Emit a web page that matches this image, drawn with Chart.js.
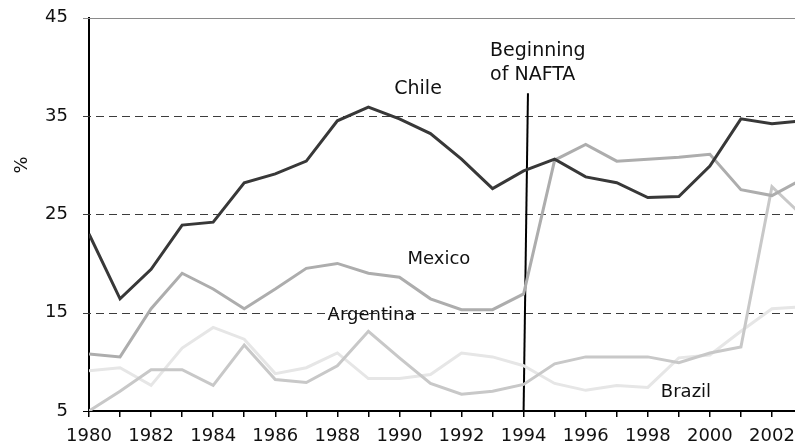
<!DOCTYPE html>
<html>
<head>
<meta charset="utf-8">
<script src="https://cdn.jsdelivr.net/npm/chart.js@4"></script>
<style>
  html, body { margin: 0; padding: 0; background: #fff; overflow: hidden; }
  #wrap { width: 840px; height: 446px; }
</style>
</head>
<body>
<div id="wrap"><canvas id="myChart" width="840" height="446"></canvas></div>
<script>
// years on the x axis
const years = [1980, 1981, 1982, 1983, 1984, 1985, 1986, 1987, 1988, 1989, 1990, 1991,
  1992, 1993, 1994, 1995, 1996, 1997, 1998, 1999, 2000, 2001, 2002, 2003]

// series, %
const chile = [23.0, 16.4, 19.4, 23.9, 24.2, 28.2, 29.1, 30.4, 34.5, 35.9, 34.7, 33.2,
  30.6, 27.6, 29.4, 30.6, 28.8, 28.2, 26.7, 26.8, 29.9, 34.7, 34.2, 34.5]
const mexico = [10.8, 10.5, 15.4, 19.0, 17.4, 15.4, 17.4, 19.5, 20.0, 19.0, 18.6, 16.4,
  15.3, 15.3, 16.9, 30.5, 32.1, 30.4, 30.6, 30.8, 31.1, 27.5, 26.9, 28.6]
const argentina = [5.0, 7.0, 9.2, 9.2, 7.6, 11.7, 8.2, 7.9, 9.6, 13.1, 10.4, 7.8,
  6.7, 7.0, 7.7, 9.8, 10.5, 10.5, 10.5, 9.9, 10.9, 11.5, 27.8, 24.8]
const brazil = [9.1, 9.4, 7.6, 11.4, 13.5, 12.3, 8.8, 9.4, 10.9, 8.3, 8.3, 8.7,
  10.9, 10.5, 9.6, 7.8, 7.1, 7.6, 7.4, 10.4, 10.7, 13.1, 15.4, 15.6]

// start of NAFTA marker (top, bottom)
const naftaX = [1994.14, 1994]
const naftaY = [37.3, 5]

// y tick values
const yTicks = [5, 15, 25, 35, 45]

// text on the plot, in data units
const notes = [
  { text: 'Chile', x: 1990.6, y: 37.7, size: 19, align: 'center' },
  { text: 'Mexico', x: 1991.27, y: 20.4, size: 18, align: 'center' },
  { text: 'Argentina', x: 1989.1, y: 14.7, size: 18, align: 'center' },
  { text: 'Brazil', x: 1999.23, y: 6.9, size: 18, align: 'center' },
  { text: 'Beginning', x: 1992.92, y: 41.6, size: 19, align: 'left' },
  { text: 'of NAFTA', x: 1992.92, y: 39.1, size: 19, align: 'left' }
]

Chart.defaults.font.family = 'DejaVu Sans'
Chart.defaults.color = '#111'

const toPts = arr => arr.map((v, i) => ({ x: years[i], y: v }))

// dashed grid lines, solid gray at the top
const gridLines = {
  id: 'gridLines',
  beforeDatasetsDraw(chart) {
    const { ctx, chartArea, scales: { y } } = chart
    ctx.save()
    yTicks.forEach(v => {
      const py = Math.round(y.getPixelForValue(v)) + 0.5
      ctx.beginPath()
      ctx.lineWidth = 1
      if (v === 45) {
        ctx.setLineDash([])
        ctx.strokeStyle = '#8a8a8a'
      } else if (v === 5) {
        ctx.setLineDash([])
        ctx.strokeStyle = '#000'
      } else {
        ctx.setLineDash([8, 5])
        ctx.strokeStyle = '#3c3c3c'
      }
      ctx.moveTo(chartArea.left - 6, py)
      ctx.lineTo(v === 5 ? chartArea.left : chartArea.right, py)
      ctx.stroke()
    })
    ctx.restore()
  }
}

const textNotes = {
  id: 'textNotes',
  afterDatasetsDraw(chart) {
    const { ctx, chartArea, scales: { x, y } } = chart
    ctx.save()
    ctx.fillStyle = '#111'
    notes.forEach(n => {
      ctx.font = n.size + 'px "DejaVu Sans"'
      ctx.textAlign = n.align
      ctx.textBaseline = 'middle'
      ctx.fillText(n.text, x.getPixelForValue(n.x), y.getPixelForValue(n.y))
    })
    // axis title
    ctx.translate(chartArea.left - 67, y.getPixelForValue(30))
    ctx.rotate(-Math.PI / 2)
    ctx.font = '18px "DejaVu Sans"'
    ctx.textAlign = 'center'
    ctx.fillText('%', 0, 0)
    ctx.restore()
  }
}

let ctx = document.getElementById('myChart')
let myChart = new Chart(ctx, {
  type: 'line',
  data: {
    datasets: [
      { label: 'Chile', data: toPts(chile), borderColor: '#383838', borderWidth: 3 },
      { label: 'Mexico', data: toPts(mexico), borderColor: '#adadad', borderWidth: 3 },
      { label: 'Argentina', data: toPts(argentina), borderColor: '#c8c8c8', borderWidth: 3 },
      { label: 'Brazil', data: toPts(brazil), borderColor: '#e6e6e6', borderWidth: 3 },
      { label: 'NAFTA', data: naftaX.map((v, i) => ({ x: v, y: naftaY[i] })), borderColor: '#000', borderWidth: 2 }
    ]
  },
  options: {
    responsive: false,
    animation: false,
    events: [],
    elements: { point: { radius: 0 }, line: { tension: 0, borderCapStyle: 'butt' } },
    layout: { padding: { left: 0, top: 17.5, right: 37, bottom: 0 } },
    plugins: { legend: { display: false }, tooltip: { enabled: false } },
    scales: {
      x: {
        type: 'linear',
        min: 1980,
        max: 2003,
        border: { color: '#000', width: 2 },
        grid: { drawOnChartArea: false, color: '#000', lineWidth: 1.5, tickLength: 6 },
        ticks: {
          stepSize: 1,
          autoSkip: false,
          maxRotation: 0,
          includeBounds: false,
          padding: 9,
          font: { size: 18 },
          callback: v => (v % 2 === 0 ? String(v) : '')
        },
        afterFit: s => { s.height = 35; s.paddingLeft = 0; s.paddingRight = 0 }
      },
      y: {
        min: 5,
        max: 45,
        border: { color: '#000', width: 2 },
        grid: { display: false },
        ticks: { stepSize: 10, padding: 13, font: { size: 18 } },
        afterFit: s => { s.width = 89; s.paddingTop = 0; s.paddingBottom = 0 }
      }
    }
  },
  plugins: [gridLines, textNotes]
})
</script>
</body>
</html>
